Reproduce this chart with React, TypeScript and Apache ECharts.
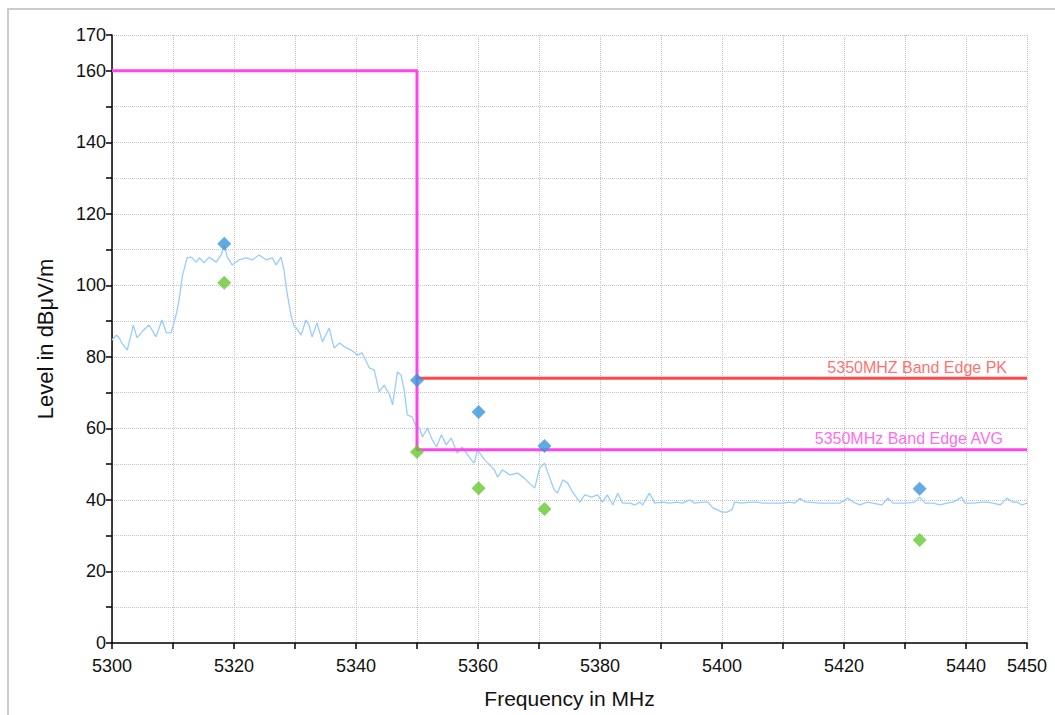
import React, { useEffect, useRef } from "react";
import * as echarts from "echarts";

// Measured trace: [frequency MHz, level dBµV/m]
const traceData: number[][] = [
  [5300.0, 84.7], [5300.7, 86.1], [5301.2, 85.3], [5301.6, 83.9], [5302.5, 81.9],
  [5303.5, 88.9], [5304.1, 85.3], [5304.9, 87.0], [5306.1, 88.9], [5307.2, 85.6],
  [5308.2, 90.3], [5308.9, 86.7], [5309.7, 86.7], [5310.5, 91.7], [5311.0, 95.9],
  [5311.5, 102.3], [5312.3, 107.7], [5313.0, 107.9], [5313.8, 106.5], [5314.3, 107.7],
  [5315.1, 106.3], [5315.9, 107.9], [5317.1, 106.5], [5317.9, 108.5], [5318.4, 111.3],
  [5318.9, 107.9], [5319.7, 105.7], [5320.8, 107.1], [5322.0, 107.7], [5323.0, 107.1],
  [5324.1, 108.5], [5325.3, 107.1], [5326.3, 107.7], [5326.9, 105.7], [5327.7, 107.9],
  [5328.2, 104.3], [5328.7, 97.9], [5329.4, 91.2], [5329.9, 88.4], [5330.2, 88.1],
  [5331.0, 86.1], [5331.8, 90.3], [5332.3, 88.9], [5332.8, 85.6], [5333.6, 89.5],
  [5334.5, 84.2], [5335.6, 88.1], [5336.4, 82.5], [5337.3, 83.9], [5338.1, 82.8],
  [5339.2, 81.9], [5340.2, 80.5], [5341.0, 81.1], [5342.2, 76.9], [5343.0, 76.3],
  [5343.8, 70.2], [5344.6, 72.1], [5345.5, 69.4], [5346.0, 66.6], [5346.8, 75.8],
  [5347.4, 74.9], [5347.9, 70.7], [5348.4, 63.8], [5349.2, 63.2], [5349.9, 60.4],
  [5350.4, 60.1], [5350.9, 57.6], [5351.7, 60.1], [5352.5, 56.8], [5353.2, 54.8],
  [5354.0, 58.2], [5354.8, 55.4], [5355.6, 57.3], [5356.6, 53.1], [5357.4, 54.8],
  [5358.9, 51.2], [5359.4, 50.3], [5359.9, 54.0], [5361.1, 51.2], [5362.7, 48.4],
  [5363.2, 46.4], [5364.0, 48.4], [5365.2, 47.0], [5366.5, 47.5], [5367.6, 46.1],
  [5368.4, 44.7], [5369.3, 43.3], [5370.1, 48.9], [5370.9, 50.3], [5371.7, 46.4],
  [5372.5, 42.8], [5373.0, 41.9], [5373.9, 45.6], [5374.7, 44.7], [5375.5, 42.2],
  [5376.7, 39.4], [5377.5, 41.4], [5378.6, 40.8], [5379.6, 41.4], [5380.4, 39.4],
  [5381.2, 41.4], [5382.1, 38.6], [5382.9, 41.9], [5383.7, 39.1], [5384.9, 39.1],
  [5385.7, 38.6], [5386.5, 39.4], [5387.0, 38.6], [5388.1, 41.9], [5389.0, 39.1],
  [5390.1, 39.4], [5391.4, 39.1], [5392.6, 39.4], [5393.6, 39.1], [5394.7, 40.0],
  [5395.5, 39.1], [5396.8, 39.4], [5397.7, 39.4], [5398.5, 37.8], [5399.3, 37.2],
  [5400.0, 36.6], [5400.8, 36.6], [5401.6, 37.2], [5402.1, 39.4], [5403.2, 39.1],
  [5404.6, 39.4], [5405.7, 39.4], [5406.7, 39.1], [5407.8, 39.1], [5409.0, 39.1],
  [5410.0, 39.1], [5411.1, 39.4], [5411.9, 39.1], [5412.8, 40.5], [5413.6, 39.4],
  [5414.4, 39.4], [5416.0, 39.1], [5417.7, 39.1], [5419.3, 39.1], [5420.6, 40.5],
  [5421.5, 39.4], [5422.6, 38.6], [5423.8, 39.4], [5424.7, 39.1], [5426.2, 38.6],
  [5427.2, 40.5], [5428.0, 39.1], [5429.2, 39.1], [5430.3, 39.1], [5431.6, 39.4],
  [5432.4, 40.8], [5433.3, 39.1], [5434.6, 39.1], [5435.7, 38.6], [5436.9, 39.1],
  [5437.9, 39.4], [5439.3, 40.8], [5439.8, 39.1], [5441.2, 39.1], [5442.6, 39.4],
  [5443.6, 39.4], [5444.4, 39.1], [5445.6, 38.6], [5446.7, 40.5], [5447.6, 39.4],
  [5448.4, 39.4], [5449.2, 38.6], [5450.0, 39.1],
];

// Final measurement markers
const markerFreq = [5318.4, 5350.0, 5360.1, 5370.9, 5432.4];
const peakLevel = [111.6, 73.5, 64.6, 55.1, 43.1];
const avgLevel = [100.7, 53.4, 43.3, 37.5, 28.8];

// Limit lines
const limitAvgLine: number[][] = [[5300, 160], [5350, 160], [5350, 54], [5450, 54]];
const limitPkLine: number[][] = [[5350, 74], [5450, 74]];
const limitPkName = "5350MHZ Band Edge PK";
const limitAvgName = "5350MHz Band Edge AVG";

// Axes
const xMin = 5300, xMax = 5450, xStep = 10;
const yMin = 0, yMax = 170, yStep = 10;

const FONT = "'Liberation Sans', Arial, Helvetica, sans-serif";
const MAGENTA = "#ff44ee";
const RED = "#ff4a4a";
const BLUE = "#3a96dd";
const GREEN = "#66c832";
const TRACE = "#99ccff";

export default function App() {
  const ref = useRef<HTMLDivElement>(null);
  useEffect(() => {
    if (!ref.current) return;
    const chart = echarts.init(ref.current, null, { renderer: "svg" });
    chart.setOption({
      animation: false,
      backgroundColor: "#ffffff",
      grid: { left: 103, top: 25, right: 28, bottom: 72, containLabel: false },
      xAxis: {
        type: "value",
        min: xMin,
        max: xMax,
        interval: xStep,
        name: "Frequency in MHz",
        nameLocation: "middle",
        nameGap: 45,
        nameTextStyle: { fontFamily: FONT, fontSize: 21, color: "#111" },
        axisLine: { onZero: false, lineStyle: { color: "#000", width: 1.5 } },
        axisTick: { show: true, length: 6, lineStyle: { color: "#000", width: 1.5 } },
        axisLabel: {
          fontFamily: FONT,
          fontSize: 18,
          color: "#111",
          margin: 14,
          showMaxLabel: true,
          showMinLabel: true,
          hideOverlap: false,
          formatter: (v: number) => (v % 20 === 0 || v === xMax ? String(v) : ""),
        },
        splitLine: { show: true, lineStyle: { color: "#c4c4c4", type: "dotted", width: 1 } },
      },
      yAxis: {
        type: "value",
        min: yMin,
        max: yMax,
        interval: yStep,
        name: "Level in dBμV/m",
        nameLocation: "middle",
        nameGap: 56,
        nameRotate: 90,
        nameTextStyle: { fontFamily: FONT, fontSize: 22, color: "#111" },
        axisLine: { show: true, lineStyle: { color: "#000", width: 1.5 } },
        axisTick: { show: true, length: 6, lineStyle: { color: "#000", width: 1.5 } },
        axisLabel: {
          fontFamily: FONT,
          fontSize: 18,
          color: "#111",
          margin: 6,
          showMaxLabel: true,
          formatter: (v: number) => (v % 20 === 0 || v === yMax ? String(v) : ""),
        },
        splitLine: { show: true, lineStyle: { color: "#c4c4c4", type: "dotted", width: 1 } },
      },
      series: [
        {
          name: "Trace",
          type: "line",
          data: traceData,
          showSymbol: false,
          symbol: "none",
          lineStyle: { color: TRACE, width: 1.3 },
          z: 2,
        },
        {
          name: limitPkName,
          type: "line",
          data: limitPkLine,
          showSymbol: false,
          symbol: "none",
          lineStyle: { color: RED, width: 3 },
          z: 3,
        },
        {
          name: limitAvgName,
          type: "line",
          data: limitAvgLine,
          showSymbol: false,
          symbol: "none",
          lineStyle: { color: MAGENTA, width: 3 },
          z: 4,
        },
        {
          name: "PK label",
          type: "scatter",
          symbolSize: 0,
          data: [limitPkLine[limitPkLine.length - 1]],
          label: {
            show: true,
            formatter: limitPkName,
            position: "left",
            distance: 0,
            offset: [-20, -11],
            color: RED,
            fontFamily: FONT,
            fontSize: 16,
          },
          silent: true,
          z: 5,
        },
        {
          name: "AVG label",
          type: "scatter",
          symbolSize: 0,
          data: [limitAvgLine[limitAvgLine.length - 1]],
          label: {
            show: true,
            formatter: limitAvgName,
            position: "left",
            distance: 0,
            offset: [-24, -11],
            color: MAGENTA,
            fontFamily: FONT,
            fontSize: 16,
          },
          silent: true,
          z: 5,
        },
        {
          name: "Peak",
          type: "scatter",
          symbol: "diamond",
          symbolSize: 14,
          data: markerFreq.map((f, i) => [f, peakLevel[i]]),
          itemStyle: { color: BLUE },
          z: 6,
        },
        {
          name: "Average",
          type: "scatter",
          symbol: "diamond",
          symbolSize: 14,
          data: markerFreq.map((f, i) => [f, avgLevel[i]]),
          itemStyle: { color: GREEN },
          z: 6,
        },
      ],
    });
    return () => chart.dispose();
  }, []);

  return (
    <div
      style={{
        position: "fixed",
        left: 7,
        top: 8,
        width: 1048,
        height: 707,
        borderTop: "2px solid #cccccc",
        borderLeft: "2px solid #cccccc",
        boxSizing: "border-box",
        background: "#fff",
      }}
    >
      <div ref={ref} style={{ width: 1046, height: 705 }} />
    </div>
  );
}
